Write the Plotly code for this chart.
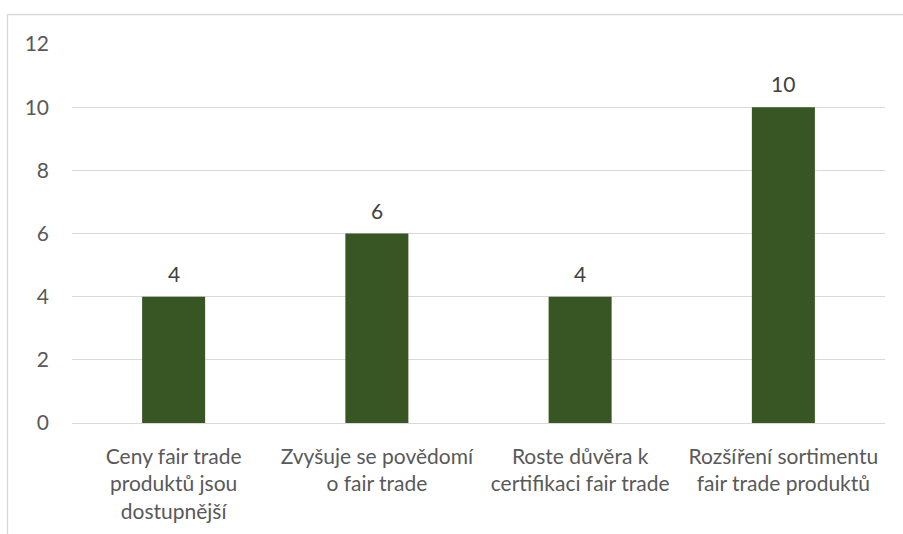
import plotly.graph_objects as go

categories = [
    "Ceny fair trade<br>produktů jsou<br>dostupnější",
    "Zvyšuje se povědomí<br>o fair trade",
    "Roste důvěra k<br>certifikaci fair trade",
    "Rozšíření sortimentu<br>fair trade produktů",
]
values = [4, 6, 4, 10]
y_ticks = [0, 2, 4, 6, 8, 10, 12]

FONT = "Lato, Open Sans, Liberation Sans, sans-serif"
FS = 21

fig = go.Figure(go.Bar(
    x=categories, y=values,
    marker=dict(color="#375623", line=dict(width=0)),
    width=0.31,
    hoverinfo="x+y",
))

for c, v in zip(categories, values):
    fig.add_annotation(x=c, y=v, text=str(v), showarrow=False,
                       yanchor="bottom", yshift=9,
                       font=dict(size=FS, color="#404040", family=FONT))

W, H = 903, 534
l, r, t, b = 72, 18, 44, 111
pw, ph = W - l - r, H - t - b

fig.update_layout(
    width=W, height=H,
    margin=dict(l=l, r=r, t=t, b=b, autoexpand=False),
    plot_bgcolor="white", paper_bgcolor="white",
    showlegend=False,
    bargap=0.69,
    font=dict(family=FONT, size=FS, color="#595959"),
    xaxis=dict(showline=False, ticks="", showgrid=False, ticklabelstandoff=19,
               tickfont=dict(size=FS, color="#595959")),
    yaxis=dict(range=[0, 12], tickvals=y_ticks, showgrid=True,
               gridcolor="#d9d9d9", gridwidth=1.3, zeroline=True,
               zerolinecolor="#d9d9d9", zerolinewidth=1.3,
               showline=False, ticks="", ticklabelstandoff=22,
               tickfont=dict(size=FS, color="#595959")),
    shapes=[dict(type="rect", xref="paper", yref="paper",
                 x0=(7.5 - l) / pw, x1=1.2,
                 y0=-0.6, y1=(H - b - 14.5) / ph,
                 line=dict(color="#d9d9d9", width=1.3),
                 fillcolor="rgba(0,0,0,0)", layer="below")],
)

fig.write_html("out.html", config={"displayModeBar": False},
               post_script="document.body.style.margin='0';document.body.style.overflow='hidden';")
